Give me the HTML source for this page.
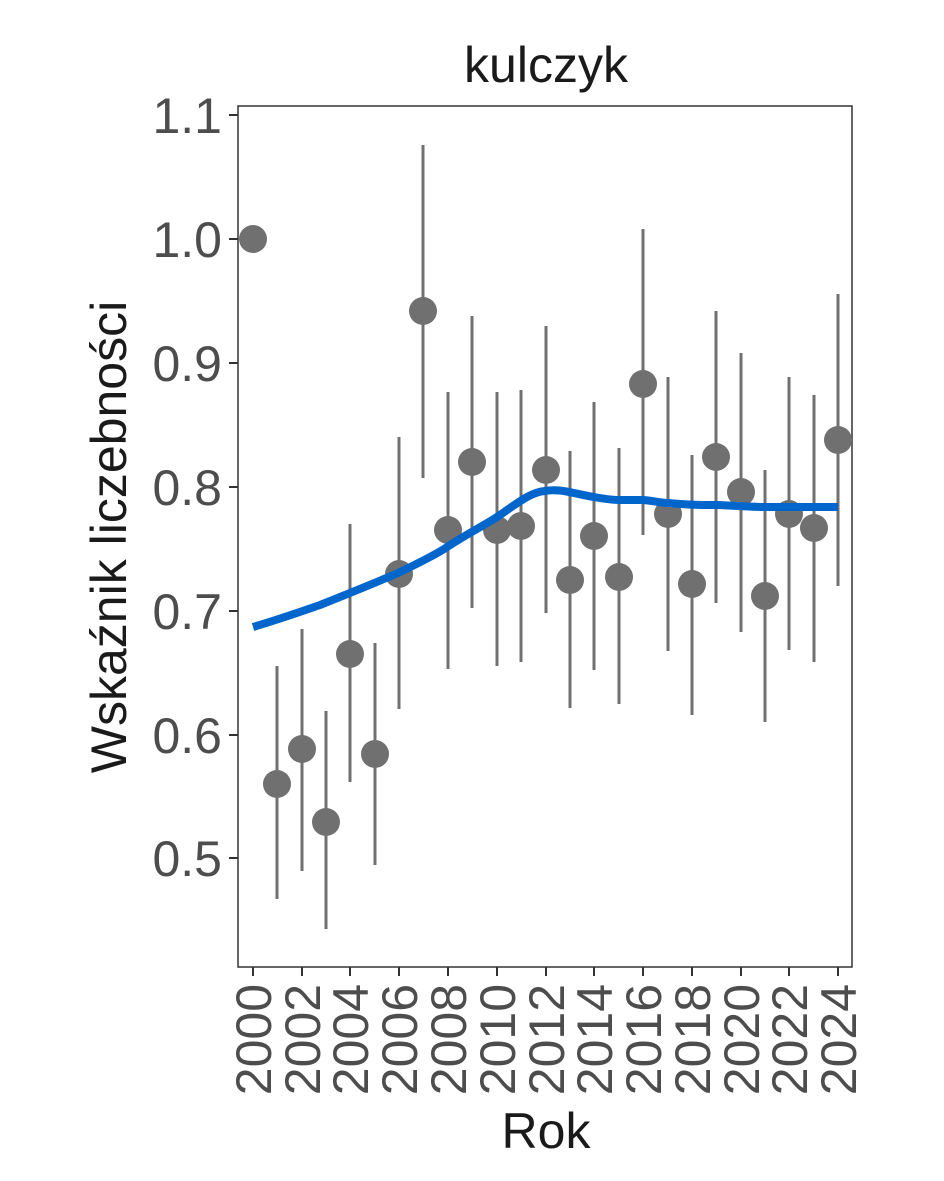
<!DOCTYPE html>
<html><head><style>body{margin:0;background:#fff}svg{display:block}</style></head><body>
<svg width="944" height="1181" xmlns="http://www.w3.org/2000/svg" font-family="Liberation Sans, sans-serif">
<rect width="944" height="1181" fill="#fff"/>
<text x="546" y="82" font-size="50" text-anchor="middle" fill="#1a1a1a">kulczyk</text>
<rect x="238" y="106" width="614" height="861" fill="none" stroke="#333" stroke-width="1.5"/>
<g stroke="#333" stroke-width="2">
<line x1="229" y1="115" x2="238" y2="115"/><line x1="229" y1="239" x2="238" y2="239"/><line x1="229" y1="363" x2="238" y2="363"/><line x1="229" y1="487" x2="238" y2="487"/><line x1="229" y1="611" x2="238" y2="611"/><line x1="229" y1="735" x2="238" y2="735"/><line x1="229" y1="858" x2="238" y2="858"/>
</g>
<g font-size="50" fill="#4d4d4d" text-anchor="end">
<text x="222" y="133">1.1</text><text x="222" y="257">1.0</text><text x="222" y="381">0.9</text><text x="222" y="505">0.8</text><text x="222" y="629">0.7</text><text x="222" y="753">0.6</text><text x="222" y="876">0.5</text>
</g>
<g stroke="#333" stroke-width="2">
<line x1="253" y1="967" x2="253" y2="976"/><line x1="302" y1="967" x2="302" y2="976"/><line x1="350" y1="967" x2="350" y2="976"/><line x1="399" y1="967" x2="399" y2="976"/><line x1="448" y1="967" x2="448" y2="976"/><line x1="497" y1="967" x2="497" y2="976"/><line x1="546" y1="967" x2="546" y2="976"/><line x1="594" y1="967" x2="594" y2="976"/><line x1="643" y1="967" x2="643" y2="976"/><line x1="692" y1="967" x2="692" y2="976"/><line x1="741" y1="967" x2="741" y2="976"/><line x1="789" y1="967" x2="789" y2="976"/><line x1="838" y1="967" x2="838" y2="976"/>
</g>
<g font-size="50" fill="#4d4d4d" text-anchor="end">
<text transform="translate(271,984) rotate(-90)">2000</text>
<text transform="translate(320,984) rotate(-90)">2002</text>
<text transform="translate(368,984) rotate(-90)">2004</text>
<text transform="translate(417,984) rotate(-90)">2006</text>
<text transform="translate(466,984) rotate(-90)">2008</text>
<text transform="translate(515,984) rotate(-90)">2010</text>
<text transform="translate(564,984) rotate(-90)">2012</text>
<text transform="translate(612,984) rotate(-90)">2014</text>
<text transform="translate(661,984) rotate(-90)">2016</text>
<text transform="translate(710,984) rotate(-90)">2018</text>
<text transform="translate(759,984) rotate(-90)">2020</text>
<text transform="translate(807,984) rotate(-90)">2022</text>
<text transform="translate(856,984) rotate(-90)">2024</text>
</g>
<text x="546" y="1148" font-size="50" text-anchor="middle" fill="#1a1a1a">Rok</text>
<text transform="translate(126,537) rotate(-90)" font-size="50" text-anchor="middle" fill="#1a1a1a">Wskaźnik liczebności</text>
<g stroke="#707070" stroke-width="3">
<line x1="277" y1="899" x2="277" y2="666"/><line x1="302" y1="871" x2="302" y2="629"/><line x1="326" y1="929" x2="326" y2="711"/><line x1="350" y1="782" x2="350" y2="524"/><line x1="375" y1="865" x2="375" y2="643"/><line x1="399" y1="709" x2="399" y2="437"/><line x1="423" y1="478" x2="423" y2="145"/><line x1="448" y1="669" x2="448" y2="392"/><line x1="472" y1="608" x2="472" y2="316"/><line x1="497" y1="666" x2="497" y2="392"/><line x1="521" y1="662" x2="521" y2="390"/><line x1="546" y1="613" x2="546" y2="326"/><line x1="570" y1="708" x2="570" y2="451"/><line x1="594" y1="670" x2="594" y2="402"/><line x1="619" y1="704" x2="619" y2="448"/><line x1="643" y1="535" x2="643" y2="229"/><line x1="668" y1="651" x2="668" y2="377"/><line x1="692" y1="715" x2="692" y2="455"/><line x1="716" y1="603" x2="716" y2="311"/><line x1="741" y1="632" x2="741" y2="353"/><line x1="765" y1="722" x2="765" y2="470"/><line x1="789" y1="650" x2="789" y2="377"/><line x1="814" y1="662" x2="814" y2="395"/><line x1="838" y1="586" x2="838" y2="294"/>
</g>
<g fill="#707070">
<circle cx="253" cy="239" r="14"/><circle cx="277" cy="784" r="14"/><circle cx="302" cy="749" r="14"/><circle cx="326" cy="822" r="14"/><circle cx="350" cy="654" r="14"/><circle cx="375" cy="754" r="14"/><circle cx="399" cy="574" r="14"/><circle cx="423" cy="311" r="14"/><circle cx="448" cy="530" r="14"/><circle cx="472" cy="462" r="14"/><circle cx="497" cy="530" r="14"/><circle cx="521" cy="526" r="14"/><circle cx="546" cy="470" r="14"/><circle cx="570" cy="580" r="14"/><circle cx="594" cy="536" r="14"/><circle cx="619" cy="577" r="14"/><circle cx="643" cy="384" r="14"/><circle cx="668" cy="514" r="14"/><circle cx="692" cy="584" r="14"/><circle cx="716" cy="457" r="14"/><circle cx="741" cy="492" r="14"/><circle cx="765" cy="596" r="14"/><circle cx="789" cy="514" r="14"/><circle cx="814" cy="528" r="14"/><circle cx="838" cy="440" r="14"/>
</g>
<path d="M253,627 C280,619 300,612 320,605 C350,593 375,583 398,573 C425,560 440,552 447,547 C470,532 485,525 497,517 C515,505 530,492 545,491 C560,488 575,494 594,497 C605,499 612,500 619,500 C630,500 640,500 643,500 C655,501 660,503 668,503 C690,505 700,505 717,505 C740,506 755,507 766,507 C800,507 820,507 838,507" fill="none" stroke="#0066cc" stroke-width="8"/>
</svg>
</body></html>
